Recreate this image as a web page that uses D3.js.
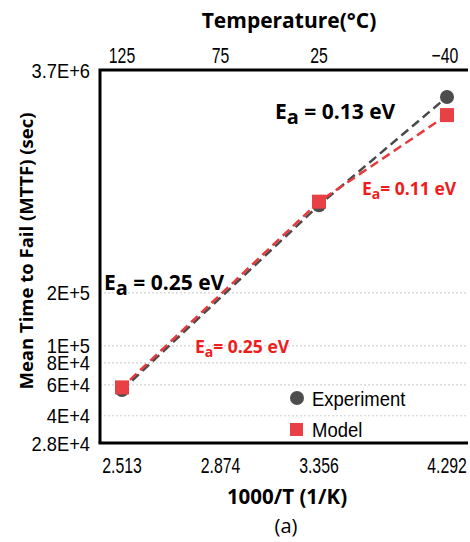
<!DOCTYPE html>
<html><head><meta charset="utf-8">
<script src="https://cdn.jsdelivr.net/npm/d3@7"></script>
<style>body{margin:0;background:#fff}</style>
</head><body>
<svg id="c" width="470" height="542"></svg>
<script>
const tempC = [125, 75, 25, -40];
const invT = [2.513, 2.874, 3.356, 4.292];
const yTicks = [3.7e6, 2e5, 1e5, 8e4, 6e4, 4e4, 2.8e4];
const yTickLabels = ["3.7E+6", "2E+5", "1E+5", "8E+4", "6E+4", "4E+4", "2.8E+4"];
const gridTicks = [2e5, 1e5, 8e4, 6e4, 4e4];
const dataX = [2.513, 3.356, 4.292];
const experiment = [5.6e4, 6.3e5, 2.6e6];
const model = [5.8e4, 6.6e5, 2.05e6];

const narrow = "'Liberation Sans',Arial,sans-serif";
const bold = "'Open Sans','DejaVu Sans',sans-serif";
const svg = d3.select("#c");
const L = 100, R = 468, T = 70, B = 443;

const xTemp = d3.scaleLinear().domain([125, -40]).range([122, 447]);
const x = d3.scaleLinear().domain(invT).range(tempC.map(xTemp));
const y = d3.scaleLog().domain([2.8e4, 3.7e6]).range([B, T]);

function ntext(sel, size, anchor) {
  return sel.attr("font-family", narrow).attr("font-size", size).attr("text-anchor", anchor)
    .attr("x", 0).attr("y", 0);
}

// grid
svg.append("g").selectAll("line").data(gridTicks).join("line")
  .attr("x1", L).attr("x2", R).attr("y1", d => y(d)).attr("y2", d => y(d))
  .attr("stroke", "#d4d4d4").attr("stroke-width", 1.2).attr("stroke-dasharray", "2,2");

// axes
const ax = svg.append("g").attr("fill", "none").attr("stroke", "#000").attr("stroke-width", 3);
ax.append("path").attr("d", `M${L},${B}V${T}H${R}`);
ax.append("path").attr("d", `M${L-1.5},${B}H${R}`);

// y tick labels
ntext(svg.append("g").selectAll("text").data(yTicks).join("text"), 21, "end")
  .attr("transform", d => `translate(90,${y(d) + 7.5}) scale(0.87,1)`)
  .text((d, i) => yTickLabels[i]);

// bottom tick labels
ntext(svg.append("g").selectAll("text").data(invT).join("text"), 22, "middle")
  .attr("transform", d => `translate(${x(d)},473) scale(0.72,1)`)
  .text(d => d3.format(".3f")(d));

// top tick labels
ntext(svg.append("g").selectAll("text").data(tempC).join("text"), 22, "middle")
  .attr("transform", d => `translate(${xTemp(d) + (d < 0 ? -2 : 0)},63) scale(0.72,1)`)
  .text(d => d < 0 ? "\u2212" + Math.abs(d) : d);

// titles
svg.append("text").attr("x", 289).attr("y", 28).attr("text-anchor", "middle")
  .attr("font-family", bold).attr("font-weight", "bold").attr("font-size", 21).text("Temperature(\u00B0C)");
svg.append("text").attr("x", 287).attr("y", 504).attr("text-anchor", "middle")
  .attr("font-family", bold).attr("font-weight", "bold").attr("font-size", 20.5).text("1000/T (1/K)");
svg.append("text").attr("x", 286).attr("y", 533).attr("text-anchor", "middle")
  .attr("font-family", bold).attr("font-size", 20).text("(a)");
svg.append("text").attr("transform", "translate(33,251) rotate(-90)").attr("text-anchor", "middle")
  .attr("font-family", bold).attr("font-weight", "bold").attr("font-size", 18.5).text("Mean Time to Fail (MTTF) (sec)");

// lines
const line = d3.line().x(d => x(d[0])).y(d => y(d[1]));
svg.append("path").datum(dataX.map((d, i) => [d, experiment[i]])).attr("d", line)
  .attr("fill", "none").attr("stroke", "#4a4a4a").attr("stroke-width", 2.5).attr("stroke-dasharray", "9,5");
svg.append("path").datum(dataX.map((d, i) => [d, model[i]])).attr("d", line)
  .attr("fill", "none").attr("stroke", "#e8393c").attr("stroke-width", 2.5).attr("stroke-dasharray", "9,5").attr("stroke-dashoffset", 3);

// markers
svg.append("g").selectAll("circle").data(dataX).join("circle")
  .attr("cx", d => x(d)).attr("cy", (d, i) => y(experiment[i])).attr("r", 7).attr("fill", "#4d4d4d");
svg.append("g").selectAll("rect").data(dataX).join("rect")
  .attr("x", d => x(d) - 7).attr("y", (d, i) => y(model[i]) - 7).attr("width", 14).attr("height", 14).attr("fill", "#e84044");

// annotations
function ea(xp, yp, val, color, size, gap, subScale) {
  const t = svg.append("text").attr("x", xp).attr("y", yp).attr("fill", color)
    .attr("font-family", bold).attr("font-weight", "bold").attr("font-size", size);
  t.append("tspan").text("E");
  t.append("tspan").attr("dy", size * 0.25).attr("font-size", size * subScale).text("a");
  t.append("tspan").attr("dy", -size * 0.25).text((gap ? " = " : "= ") + val + " eV");
}
ea(275, 119, "0.13", "#000", 21, true, 0.95);
ea(362, 195, "0.11", "#f01c1c", 17.5, false, 0.8);
ea(104, 290, "0.25", "#000", 21, true, 0.95);
ea(195, 353, "0.25", "#f01c1c", 17.5, false, 0.8);

// legend
svg.append("circle").attr("cx", 297).attr("cy", 398).attr("r", 7).attr("fill", "#4d4d4d");
ntext(svg.append("text"), 21, "start").attr("transform", "translate(312,405.5) scale(0.88,1)").text("Experiment");
svg.append("rect").attr("x", 290).attr("y", 423).attr("width", 13).attr("height", 13).attr("fill", "#e84044");
ntext(svg.append("text"), 21, "start").attr("transform", "translate(312,436.5) scale(0.88,1)").text("Model");
</script>
</body></html>
